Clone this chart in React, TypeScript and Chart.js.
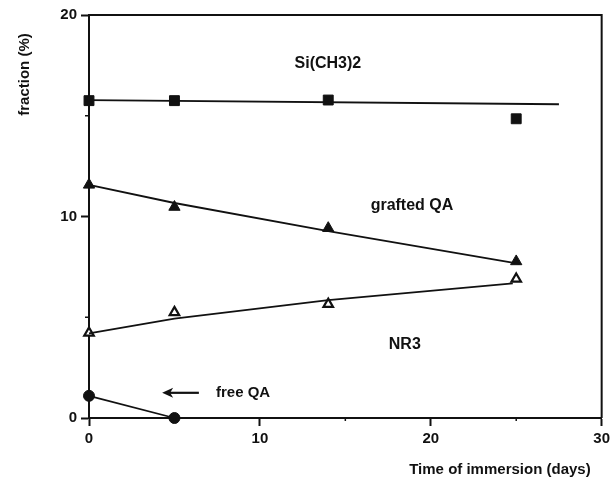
import React, { useEffect, useRef } from "react";
import { Chart, registerables } from "chart.js";

Chart.register(...registerables);

// ---- data ----
const days = [0, 5, 14, 25];
const siCH3Values = [15.75, 15.75, 15.78, 14.85];
const graftedQAValues = [11.57, 10.47, 9.42, 7.77];
const nr3Values = [4.22, 5.24, 5.65, 6.9];
const freeQADays = [0, 5];
const freeQAValues = [1.1, 0];

// fitted curves (drawn by hand on the original figure)
const siFitDays = [0, 27.5];
const siFitValues = [15.78, 15.57];
const graftedFitDays = [0, 5, 14, 25.2];
const graftedFitValues = [11.57, 10.67, 9.27, 7.65];
const nr3FitDays = [0, 5, 14, 24.8];
const nr3FitValues = [4.2, 4.93, 5.85, 6.68];

const xTicks = [0, 10, 20, 30];
const yTicks = [0, 10, 20];

const xTitle = "Time of immersion (days)";
const yTitle = "fraction (%)";

// annotations in data units
const labels = [
  { text: "Si(CH3)2", x: 13.98, y: 17.57, align: "center", size: 16 },
  { text: "grafted QA", x: 18.9, y: 10.55, align: "center", size: 16 },
  { text: "NR3", x: 18.48, y: 3.64, align: "center", size: 16 },
  { text: "free QA", x: 7.43, y: 1.25, align: "left", size: 15 },
];
const arrowFrom = { x: 6.43, y: 1.25 };
const arrowTo = { x: 4.28, y: 1.25 };

const FONT = '"Liberation Sans", Arial, Helvetica, sans-serif';
const INK = "#111";

const pts = (xs: number[], ys: number[]) => xs.map((x, i) => ({ x, y: ys[i] }));

const decorPlugin = {
  id: "decor",
  afterDraw(chart: any) {
    const { ctx, chartArea } = chart;
    const xs = chart.scales.x;
    const ys = chart.scales.y;
    ctx.save();
    ctx.strokeStyle = INK;
    ctx.lineWidth = 2;
    ctx.beginPath();
    ctx.moveTo(chartArea.left, chartArea.top);
    ctx.lineTo(chartArea.right, chartArea.top);
    ctx.lineTo(chartArea.right, chartArea.bottom);
    ctx.stroke();
    ctx.lineWidth = 1.5;
    [5, 15].forEach((v) => {
      const py = ys.getPixelForValue(v);
      ctx.beginPath();
      ctx.moveTo(chartArea.left - 4, py);
      ctx.lineTo(chartArea.left, py);
      ctx.stroke();
    });
    [5, 15, 25].forEach((v) => {
      const px = xs.getPixelForValue(v);
      ctx.beginPath();
      ctx.moveTo(px, chartArea.bottom);
      ctx.lineTo(px, chartArea.bottom + 3);
      ctx.stroke();
    });
    ctx.fillStyle = INK;
    ctx.textBaseline = "middle";
    labels.forEach((l) => {
      ctx.font = `bold ${l.size}px ${FONT}`;
      ctx.textAlign = l.align as CanvasTextAlign;
      ctx.fillText(l.text, xs.getPixelForValue(l.x), ys.getPixelForValue(l.y));
    });
    const ax1 = xs.getPixelForValue(arrowFrom.x);
    const ax2 = xs.getPixelForValue(arrowTo.x);
    const ay = ys.getPixelForValue(arrowFrom.y);
    ctx.lineWidth = 2.2;
    ctx.beginPath();
    ctx.moveTo(ax1, ay);
    ctx.lineTo(ax2 + 6, ay);
    ctx.stroke();
    ctx.beginPath();
    ctx.moveTo(ax2, ay);
    ctx.lineTo(ax2 + 11, ay - 5);
    ctx.lineTo(ax2 + 8, ay);
    ctx.lineTo(ax2 + 11, ay + 5);
    ctx.closePath();
    ctx.fill();
    ctx.font = `bold 15px ${FONT}`;
    ctx.textAlign = "right";
    ctx.fillText(xTitle, chartArea.right - 11, 470);
    ctx.translate(25, 74.5);
    ctx.rotate(-Math.PI / 2);
    ctx.textAlign = "center";
    ctx.fillText(yTitle, 0, 0);
    ctx.restore();
  },
};

export default function App() {
  const ref = useRef<HTMLCanvasElement>(null);
  useEffect(() => {
    if (!ref.current) return;
    const fitStyle = {
      showLine: true,
      borderColor: INK,
      borderWidth: 1.8,
      pointRadius: 0,
      tension: 0,
      clip: false as const,
    };
    const chart = new Chart(ref.current, {
      type: "scatter",
      data: {
        datasets: [
          { label: "Si fit", data: pts(siFitDays, siFitValues), ...fitStyle },
          {
            label: "Si(CH3)2",
            data: pts(days, siCH3Values),
            pointStyle: "rect",
            pointRadius: 7,
            backgroundColor: INK,
            borderColor: INK,
            borderWidth: 1,
            clip: false,
          },
          { label: "grafted fit", data: pts(graftedFitDays, graftedFitValues), ...fitStyle },
          {
            label: "grafted QA",
            data: pts(days, graftedQAValues),
            pointStyle: "triangle",
            pointRadius: 6.5,
            backgroundColor: INK,
            borderColor: INK,
            borderWidth: 1,
            clip: false,
          },
          { label: "NR3 fit", data: pts(nr3FitDays, nr3FitValues), ...fitStyle },
          {
            label: "NR3",
            data: pts(days, nr3Values),
            pointStyle: "triangle",
            pointRadius: 5.5,
            backgroundColor: "#fff",
            borderColor: INK,
            borderWidth: 2.2,
            clip: false,
          },
          {
            label: "free QA",
            data: pts(freeQADays, freeQAValues),
            showLine: true,
            borderColor: INK,
            borderWidth: 1.8,
            pointStyle: "circle",
            pointRadius: 5.5,
            backgroundColor: INK,
            pointBorderColor: INK,
            pointBorderWidth: 1,
            clip: false,
          },
        ],
      },
      options: {
        animation: false,
        responsive: true,
        maintainAspectRatio: false,
        layout: { padding: { left: 0, right: 8, top: 15, bottom: 0 } },
        plugins: { legend: { display: false }, tooltip: { enabled: false } },
        scales: {
          x: {
            type: "linear",
            min: 0,
            max: 30,
            afterFit: (s: any) => {
              s.height = 65;
            },
            afterBuildTicks: (s: any) => {
              s.ticks = xTicks.map((v) => ({ value: v }));
            },
            border: { display: true, color: INK, width: 2 },
            grid: {
              display: true,
              drawOnChartArea: false,
              drawTicks: true,
              tickLength: 8,
              tickWidth: 2,
              tickColor: INK,
            },
            ticks: {
              color: INK,
              padding: 4,
              maxRotation: 0,
              font: { family: FONT, size: 15, weight: "bold" },
            },
          },
          y: {
            type: "linear",
            min: 0,
            max: 20,
            afterFit: (s: any) => {
              s.width = 89;
            },
            afterBuildTicks: (s: any) => {
              s.ticks = yTicks.map((v) => ({ value: v }));
            },
            border: { display: true, color: INK, width: 2 },
            grid: {
              display: true,
              drawOnChartArea: false,
              drawTicks: true,
              tickLength: 8,
              tickWidth: 2,
              tickColor: INK,
            },
            ticks: {
              color: INK,
              padding: 4,
              font: { family: FONT, size: 15, weight: "bold" },
            },
          },
        },
      },
      plugins: [decorPlugin],
    });
    return () => chart.destroy();
  }, []);
  return (
    <div style={{ position: "absolute", left: 0, top: 0, width: 614, height: 483, background: "#fff" }}>
      <canvas ref={ref} />
    </div>
  );
}
